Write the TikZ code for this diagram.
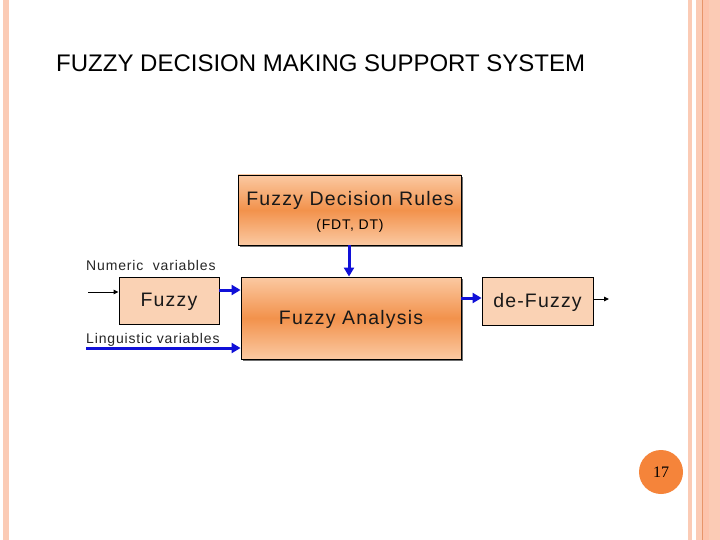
\documentclass[tikz,border=0pt]{standalone}
\usepackage{fontspec}
\setmainfont{Liberation Sans}
\newfontfamily\serifnum{Liberation Serif}
\newfontfamily\widesans[LetterSpace=6]{Liberation Sans}
\usetikzlibrary{arrows.meta,shadows}
\definecolor{stripe}{HTML}{FBCBB5}
\definecolor{stripeB}{HTML}{FDC3AC}
\definecolor{stripeline}{HTML}{E8956A}
\definecolor{peach}{HTML}{FAD2B4}
\definecolor{orgmid}{HTML}{F2924C}
\definecolor{orglight}{HTML}{FBC9A2}
\definecolor{arrowblue}{HTML}{1010D8}
\definecolor{badge}{HTML}{F5843A}
\tikzset{
  gradbox/.style={draw=black, line width=0.9pt, top color=orglight, bottom color=orglight, middle color=orgmid,
     drop shadow={shadow xshift=2pt, shadow yshift=-2pt, fill=black!70, opacity=0.8}},
  peachbox/.style={draw=black, line width=0.9pt, fill=peach},
  bluearrow/.style={draw=arrowblue, line width=3pt, -{Triangle[length=9pt,width=10pt]}},
  blackarrow/.style={draw=black, line width=1pt, -{Triangle[length=5pt,width=4.5pt]}},
  lbl/.style={inner sep=0pt, font=\widesans\fontsize{14}{16}\selectfont, text=black!85},
  bigtxt/.style={inner sep=0pt, font=\widesans\fontsize{19.5}{23}\selectfont, text=black!90}
}
\begin{document}
\begin{tikzpicture}[x=1pt,y=-1pt]
\useasboundingbox (0,0) rectangle (720,540);
\fill[white] (0,0) rectangle (720,540);
% decorative stripes
\fill[stripe] (3,0) rectangle (9,540);
\fill[stripe] (688,0) rectangle (692,540);
\fill[stripe] (696,0) rectangle (702,540);
\fill[stripeB] (702,0) rectangle (709,540);
\fill[stripe] (709,0) rectangle (720,540);
\draw[stripeline, line width=0.8pt] (702.5,0) -- (702.5,540);
% title
\node[anchor=base west, inner sep=0pt, font=\fontsize{24}{28}\selectfont] (title) at (56,72) {FUZZY DECISION MAKING SUPPORT SYSTEM};
% boxes
\node[gradbox, minimum width=223pt, minimum height=70pt, inner sep=0pt] (rules) at (349.5,210) {};
\node[bigtxt] (rulesT) at (350,200) {Fuzzy Decision Rules};
\node[inner sep=0pt, font=\widesans\fontsize{14}{16}\selectfont] (rulesS) at (350,226) {(FDT, DT)};
\node[peachbox, minimum width=100pt, minimum height=47pt, inner sep=0pt] (fuzzy) at (169,300.5) {};
\node[bigtxt] (fuzzyT) at (169,302) {Fuzzy};
\node[gradbox, minimum width=220pt, minimum height=82pt, inner sep=0pt] (analysis) at (351,318) {};
\node[bigtxt] (analysisT) at (351,319) {Fuzzy Analysis};
\node[peachbox, minimum width=111pt, minimum height=48pt, inner sep=0pt] (defuzzy) at (537.5,301) {};
\node[bigtxt] (defuzzyT) at (537.5,302) {de-Fuzzy};
% labels
\node[lbl, anchor=west] (numeric) at (86,265) {Numeric\ \ variables};
\node[lbl, anchor=west] (ling) at (86,340) {Linguistic variables};
% arrow endpoints
\coordinate (numStart) at (88,292);
\coordinate (lingStart) at (86,348);
\coordinate (outEnd) at (609,299);
% connectors
\draw[blackarrow] (numStart) -- (fuzzy.west |- numStart);
\draw[bluearrow] (fuzzy.east |- 0,290) -- (analysis.west |- 0,290);
\draw[bluearrow] (lingStart) -- (analysis.west |- lingStart);
\draw[bluearrow] (rules.south -| 349,0) -- (analysis.north -| 349,0);
\draw[bluearrow] (analysis.east |- 0,298) -- (defuzzy.west |- 0,298);
\draw[blackarrow] (defuzzy.east |- outEnd) -- (outEnd);
% page badge
\node[circle, fill=badge, minimum size=44pt, inner sep=0pt, font=\serifnum\fontsize{16}{18}\selectfont] (page) at (661,472) {17};
\end{tikzpicture}
\end{document}
